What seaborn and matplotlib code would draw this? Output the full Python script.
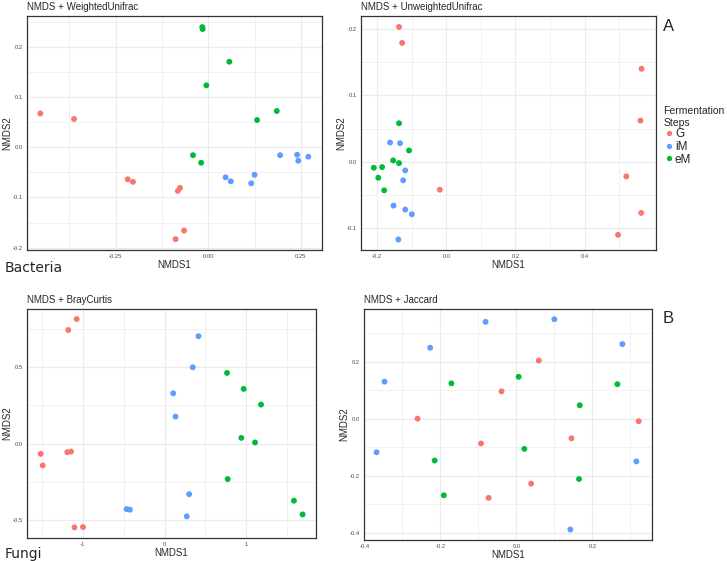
import numpy as np
import pandas as pd
import seaborn as sns
import matplotlib.pyplot as plt

# NMDS coordinates, per panel and fermentation step
steps = ["G", "iM", "eM"]
colors = {"G": "#F8766D", "iM": "#619CFF", "eM": "#00BA38"}

# Bacteria - Weighted Unifrac
wu_G_x = [-0.453, -0.362, -0.217, -0.203, -0.076, -0.082, -0.065, -0.088]
wu_G_y = [0.067, 0.056, -0.064, -0.069, -0.081, -0.087, -0.166, -0.183]
wu_iM_x = [0.047, 0.061, 0.125, 0.116, 0.194, 0.240, 0.243, 0.270]
wu_iM_y = [-0.060, -0.068, -0.055, -0.072, -0.016, -0.015, -0.027, -0.019]
wu_eM_x = [-0.016, -0.015, 0.057, -0.005, 0.185, 0.132, -0.041, -0.019]
wu_eM_y = [0.239, 0.235, 0.170, 0.123, 0.072, 0.054, -0.016, -0.031]

# Bacteria - Unweighted Unifrac
uu_G_x = [-0.137, -0.128, 0.565, 0.562, 0.521, 0.564, 0.497, -0.019]
uu_G_y = [0.203, 0.179, 0.140, 0.062, -0.022, -0.077, -0.110, -0.042]
uu_iM_x = [-0.163, -0.134, -0.119, -0.125, -0.153, -0.119, -0.100, -0.139]
uu_iM_y = [0.029, 0.028, -0.013, -0.028, -0.066, -0.072, -0.079, -0.117]
uu_eM_x = [-0.137, -0.108, -0.154, -0.137, -0.210, -0.186, -0.197, -0.180]
uu_eM_y = [0.058, 0.017, 0.002, -0.002, -0.009, -0.008, -0.024, -0.043]

# Fungi - Bray Curtis
bc_G_x = [-1.073, -1.175, -1.512, -1.488, -1.187, -1.142, -1.100, -0.996]
bc_G_y = [0.818, 0.746, -0.068, -0.144, -0.057, -0.053, -0.551, -0.549]
bc_iM_x = [0.415, 0.345, 0.106, 0.134, 0.301, 0.272, -0.463, -0.423]
bc_iM_y = [0.705, 0.501, 0.330, 0.177, -0.333, -0.479, -0.431, -0.435]
bc_eM_x = [0.764, 0.967, 1.179, 0.939, 1.106, 0.772, 1.581, 1.687]
bc_eM_y = [0.464, 0.359, 0.256, 0.037, 0.007, -0.234, -0.376, -0.466]

# Fungi - Jaccard
ja_G_x = [0.059, -0.039, -0.260, -0.093, 0.145, 0.322, 0.039, -0.073]
ja_G_y = [0.204, 0.096, 0.000, -0.087, -0.069, -0.009, -0.228, -0.278]
ja_iM_x = [-0.081, 0.100, -0.227, 0.279, -0.347, -0.368, 0.316, 0.142]
ja_iM_y = [0.340, 0.349, 0.249, 0.262, 0.130, -0.118, -0.150, -0.389]
ja_eM_x = [-0.171, 0.006, 0.266, 0.167, 0.021, -0.215, 0.165, -0.191]
ja_eM_y = [0.124, 0.147, 0.121, 0.047, -0.106, -0.147, -0.212, -0.269]


def make_df(gx, gy, ix, iy, ex, ey):
    parts = []
    for step, xs, ys in [("G", gx, gy), ("iM", ix, iy), ("eM", ex, ey)]:
        parts.append(pd.DataFrame({"NMDS1": xs, "NMDS2": ys, "step": step}))
    return pd.concat(parts, ignore_index=True)


def style_axis(ax, xticks, yticks, xlim, ylim, title):
    ax.set_xticks(xticks)
    ax.set_yticks(yticks)
    # minor grid halfway between majors, like ggplot
    xt = np.array(xticks)
    yt = np.array(yticks)
    dx = xt[1] - xt[0]
    dy = yt[1] - yt[0]
    ax.set_xticks(np.arange(xt[0] - dx * 1.5, xt[-1] + dx, dx), minor=True)
    ax.set_yticks(np.arange(yt[0] - dy * 1.5, yt[-1] + dy, dy), minor=True)
    ax.set_xlim(*xlim)
    ax.set_ylim(*ylim)
    ax.grid(which="major", color="#EBEBEB", linewidth=0.8)
    ax.grid(which="minor", color="#EBEBEB", linewidth=0.5)
    ax.set_axisbelow(True)
    ax.tick_params(which="major", labelsize=4.2, labelcolor="#4D4D4D",
                   color="#333333", length=2, width=0.5, pad=1)
    ax.tick_params(which="minor", length=0)
    for sp in ax.spines.values():
        sp.set_color("#333333")
        sp.set_linewidth(0.9)
    ax.set_xlabel("NMDS1", fontsize=7, labelpad=0.5)
    ax.set_ylabel("NMDS2", fontsize=7, labelpad=0.5)
    ax.set_title(title, fontsize=7, loc="left", pad=4)


sns.set_style("white")
plt.rcParams["font.family"] = ["Liberation Sans", "DejaVu Sans"]

fig = plt.figure(figsize=(7.27, 5.61), dpi=100)
ax1 = fig.add_axes([0.0371, 0.5544, 0.4058, 0.4171])
ax2 = fig.add_axes([0.4966, 0.5544, 0.4058, 0.4171])
ax3 = fig.add_axes([0.0371, 0.0410, 0.3975, 0.4082])
ax4 = fig.add_axes([0.5007, 0.0374, 0.3961, 0.4118])

panels = [
    (ax1, make_df(wu_G_x, wu_G_y, wu_iM_x, wu_iM_y, wu_eM_x, wu_eM_y),
     [-0.25, 0.0, 0.25], [-0.2, -0.1, 0.0, 0.1, 0.2], (-0.489, 0.307), (-0.2046, 0.261),
     "NMDS + WeightedUnifrac", ["-0.25", "0.00", "0.25"], ["-0.2", "-0.1", "0.0", "0.1", "0.2"]),
    (ax2, make_df(uu_G_x, uu_G_y, uu_iM_x, uu_iM_y, uu_eM_x, uu_eM_y),
     [-0.2, 0.0, 0.2, 0.4], [-0.1, 0.0, 0.1, 0.2], (-0.247, 0.607), (-0.1328, 0.2195),
     "NMDS + UnweightedUnifrac", ["-0.2", "0.0", "0.2", "0.4"], ["-0.1", "0.0", "0.1", "0.2"]),
    (ax3, make_df(bc_G_x, bc_G_y, bc_iM_x, bc_iM_y, bc_eM_x, bc_eM_y),
     [-1, 0, 1], [-0.5, 0.0, 0.5], (-1.68, 1.85), (-0.621, 0.884),
     "NMDS + BrayCurtis", ["-1", "0", "1"], ["-0.5", "0.0", "0.5"]),
    (ax4, make_df(ja_G_x, ja_G_y, ja_iM_x, ja_iM_y, ja_eM_x, ja_eM_y),
     [-0.4, -0.2, 0.0, 0.2], [-0.4, -0.2, 0.0, 0.2], (-0.401, 0.357), (-0.426, 0.385),
     "NMDS + Jaccard", ["-0.4", "-0.2", "0.0", "0.2"], ["-0.4", "-0.2", "0.0", "0.2"]),
]

for ax, df, xt, yt, xl, yl, title, xlab, ylab in panels:
    sns.scatterplot(data=df, x="NMDS1", y="NMDS2", hue="step", hue_order=steps,
                    palette=colors, s=18, linewidth=0, ax=ax, legend=(ax is ax2))
    style_axis(ax, xt, yt, xl, yl, title)
    ax.set_xticklabels(xlab)
    ax.set_yticklabels(ylab)

sns.move_legend(ax2, "upper left", bbox_to_anchor=(1.0, 0.645), frameon=False,
                title="Fermentation\nSteps", fontsize=8.5, title_fontsize=7.5,
                handletextpad=0.0, labelspacing=0.05, borderpad=0.1,
                handlelength=1.0, markerscale=0.9)
leg = ax2.get_legend()
leg._legend_box.align = "left"

fig.text(0.007, 0.515, "Bacteria", fontsize=10, family="DejaVu Sans")
fig.text(0.007, 0.006, "Fungi", fontsize=10, family="DejaVu Sans")
fig.text(0.912, 0.945, "A", fontsize=12)
fig.text(0.912, 0.425, "B", fontsize=12)

fig.savefig("out.png", dpi=100)
